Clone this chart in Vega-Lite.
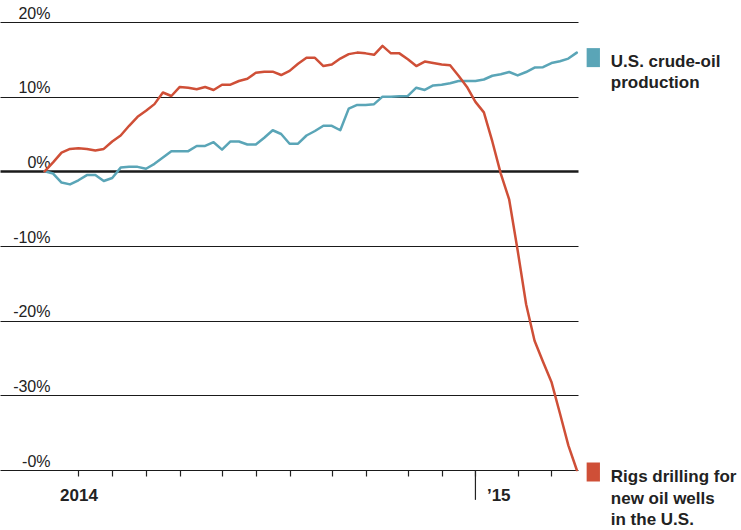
{
  "$schema": "https://vega.github.io/schema/vega-lite/v6.json",
  "width": 578,
  "height": 448,
  "autosize": {"type": "none"},
  "padding": {"left": 0, "top": 22, "right": 163, "bottom": 60},
  "background": "white",
  "config": {
    "view": {"stroke": null},
    "font": "Liberation Sans",
    "axis": {"labelFont": "Liberation Sans"},
    "text": {"font": "Liberation Sans"}
  },
  "data": {
    "values": [
      {"date": "2014-01-03", "prod": 0, "rigs": 0},
      {"date": "2014-01-10", "prod": -0.3, "rigs": 1.2},
      {"date": "2014-01-17", "prod": -1.5, "rigs": 2.5},
      {"date": "2014-01-24", "prod": -1.75, "rigs": 3.0},
      {"date": "2014-01-31", "prod": -1.2, "rigs": 3.1},
      {"date": "2014-02-07", "prod": -0.5, "rigs": 3.0},
      {"date": "2014-02-14", "prod": -0.5, "rigs": 2.8},
      {"date": "2014-02-21", "prod": -1.3, "rigs": 3.0},
      {"date": "2014-02-28", "prod": -0.9, "rigs": 4.0},
      {"date": "2014-03-07", "prod": 0.5, "rigs": 4.8},
      {"date": "2014-03-14", "prod": 0.6, "rigs": 6.1},
      {"date": "2014-03-21", "prod": 0.6, "rigs": 7.3},
      {"date": "2014-03-28", "prod": 0.35, "rigs": 8.1},
      {"date": "2014-04-04", "prod": 1.0, "rigs": 9.0},
      {"date": "2014-04-11", "prod": 1.85, "rigs": 10.56},
      {"date": "2014-04-18", "prod": 2.7, "rigs": 10.09},
      {"date": "2014-04-25", "prod": 2.7, "rigs": 11.3},
      {"date": "2014-05-02", "prod": 2.7, "rigs": 11.2},
      {"date": "2014-05-09", "prod": 3.4, "rigs": 11.0},
      {"date": "2014-05-16", "prod": 3.4, "rigs": 11.3},
      {"date": "2014-05-23", "prod": 3.9, "rigs": 10.9},
      {"date": "2014-05-30", "prod": 2.9, "rigs": 11.6},
      {"date": "2014-06-06", "prod": 4.0, "rigs": 11.6},
      {"date": "2014-06-13", "prod": 4.0, "rigs": 12.1},
      {"date": "2014-06-20", "prod": 3.6, "rigs": 12.4},
      {"date": "2014-06-27", "prod": 3.6, "rigs": 13.2},
      {"date": "2014-07-04", "prod": 4.5, "rigs": 13.35},
      {"date": "2014-07-11", "prod": 5.5, "rigs": 13.35},
      {"date": "2014-07-18", "prod": 5.0, "rigs": 12.9},
      {"date": "2014-07-25", "prod": 3.7, "rigs": 13.45},
      {"date": "2014-08-01", "prod": 3.7, "rigs": 14.4},
      {"date": "2014-08-08", "prod": 4.8, "rigs": 15.2},
      {"date": "2014-08-15", "prod": 5.4, "rigs": 15.2},
      {"date": "2014-08-22", "prod": 6.1, "rigs": 14.1},
      {"date": "2014-08-29", "prod": 6.1, "rigs": 14.3},
      {"date": "2014-09-05", "prod": 5.5, "rigs": 15.1},
      {"date": "2014-09-12", "prod": 8.4, "rigs": 15.7},
      {"date": "2014-09-19", "prod": 8.9, "rigs": 15.9},
      {"date": "2014-09-26", "prod": 8.9, "rigs": 15.8},
      {"date": "2014-10-03", "prod": 9.0, "rigs": 15.6},
      {"date": "2014-10-10", "prod": 10.0, "rigs": 16.8},
      {"date": "2014-10-17", "prod": 10.0, "rigs": 15.8},
      {"date": "2014-10-24", "prod": 10.05, "rigs": 15.8},
      {"date": "2014-10-31", "prod": 10.1, "rigs": 15.0},
      {"date": "2014-11-07", "prod": 11.2, "rigs": 14.1},
      {"date": "2014-11-14", "prod": 10.9, "rigs": 14.7},
      {"date": "2014-11-21", "prod": 11.5, "rigs": 14.5},
      {"date": "2014-11-28", "prod": 11.6, "rigs": 14.3},
      {"date": "2014-12-05", "prod": 11.8, "rigs": 14.2},
      {"date": "2014-12-12", "prod": 12.1, "rigs": 12.8},
      {"date": "2014-12-19", "prod": 12.1, "rigs": 11.3},
      {"date": "2014-12-26", "prod": 12.1, "rigs": 9.3},
      {"date": "2015-01-02", "prod": 12.3, "rigs": 7.9},
      {"date": "2015-01-09", "prod": 12.8, "rigs": 4.0},
      {"date": "2015-01-16", "prod": 13.0, "rigs": -0.3},
      {"date": "2015-01-23", "prod": 13.3, "rigs": -3.8},
      {"date": "2015-01-30", "prod": 12.85, "rigs": -10.6},
      {"date": "2015-02-06", "prod": 13.3, "rigs": -17.8},
      {"date": "2015-02-13", "prod": 13.9, "rigs": -22.7},
      {"date": "2015-02-20", "prod": 13.95, "rigs": -25.5},
      {"date": "2015-02-27", "prod": 14.5, "rigs": -28.2},
      {"date": "2015-03-06", "prod": 14.75, "rigs": -32.4},
      {"date": "2015-03-13", "prod": 15.1, "rigs": -36.7},
      {"date": "2015-03-20", "prod": 15.9, "rigs": -40.0}
    ],
    "format": {"parse": {"date": "date:'%Y-%m-%d'"}}
  },
  "transform": [{"fold": ["prod", "rigs"], "as": ["series", "value"]}],
  "encoding": {
    "x": {
      "field": "date",
      "type": "temporal",
      "scale": {"domain": [{"year": 2013, "month": 11, "date": 27}, {"year": 2015, "month": 3, "date": 21}]},
      "axis": {
        "values": [
          {"year": 2014, "month": 1, "date": 31},
          {"year": 2014, "month": 2, "date": 28},
          {"year": 2014, "month": 3, "date": 28},
          {"year": 2014, "month": 4, "date": 25},
          {"year": 2014, "month": 5, "date": 30},
          {"year": 2014, "month": 6, "date": 27},
          {"year": 2014, "month": 7, "date": 25},
          {"year": 2014, "month": 8, "date": 29},
          {"year": 2014, "month": 9, "date": 26},
          {"year": 2014, "month": 10, "date": 31},
          {"year": 2014, "month": 11, "date": 28},
          {"year": 2014, "month": 12, "date": 26},
          {"year": 2015, "month": 1, "date": 30},
          {"year": 2015, "month": 2, "date": 27}
        ],
        "domain": false,
        "grid": false,
        "ticks": true,
        "tickColor": "#222222",
        "tickWidth": 1.2,
        "tickSize": 6,
        "labelExpr": "year(datum.value)==2014 && month(datum.value)==0 ? '2014' : (month(datum.value)==11 ? '’15' : '')",
        "labelAlign": {"condition": {"test": "month(datum.value)==11", "value": "left"}, "value": "center"},
        "labelOffset": {"condition": {"test": "month(datum.value)==11", "value": 11}, "value": 0},
        "labelBaseline": "alphabetic",
        "labelPadding": 24.5,
        "labelFontSize": 17,
        "labelFontWeight": "bold",
        "labelColor": "#222222",
        "labelFlush": false,
        "labelOverlap": false,
        "title": null
      }
    },
    "y": {
      "field": "value",
      "type": "quantitative",
      "scale": {"domain": [-40, 20], "nice": false, "zero": false},
      "axis": {
        "values": [-40, -30, -20, -10, 0, 10, 20],
        "grid": true,
        "gridColor": "#1a1a1a",
        "gridWidth": {"condition": {"test": "datum.value===0", "value": 2.6}, "value": 1},
        "domain": false,
        "ticks": false,
        "tickSize": 0,
        "labelPadding": -50,
        "labelAlign": "right",
        "labelBaseline": "alphabetic",
        "labelOffset": -4,
        "labelExpr": "datum.value===-40 ? '-0%\u00a0\u00a0' : datum.value + '%'",
        "labelFontSize": 16,
        "labelColor": "#222222",
        "labelFlush": false,
        "labelOverlap": false,
        "title": null
      }
    }
  },
  "layer": [
    {
      "mark": {"type": "line", "strokeWidth": 2.5, "strokeJoin": "round", "strokeCap": "round"},
      "encoding": {
        "color": {
          "field": "series",
          "type": "nominal",
          "scale": {"domain": ["prod", "rigs"], "range": ["#5aa5b7", "#cf4f37"]},
          "legend": null
        }
      }
    },
    {
      "transform": [
        {"window": [{"op": "row_number", "as": "rn"}], "sort": [{"field": "date", "order": "descending"}], "groupby": ["series"]},
        {"filter": "datum.rn == 1 && datum.series == 'prod'"}
      ],
      "mark": {"type": "point", "shape": "M-0.7,-1L0.7,-1L0.7,1L-0.7,1Z", "size": 361, "filled": true, "opacity": 1, "color": "#5aa5b7", "strokeWidth": 0, "xOffset": 16.5, "yOffset": 5}
    },
    {
      "transform": [
        {"window": [{"op": "row_number", "as": "rn"}], "sort": [{"field": "date", "order": "descending"}], "groupby": ["series"]},
        {"filter": "datum.rn == 1 && datum.series == 'prod'"}
      ],
      "mark": {"type": "text", "align": "left", "baseline": "alphabetic", "dx": 34, "dy": 14.5, "fontSize": 17, "fontWeight": "bold", "lineHeight": 21, "color": "#222222"},
      "encoding": {"text": {"value": ["U.S. crude-oil", "production"]}}
    },
    {
      "transform": [
        {"window": [{"op": "row_number", "as": "rn"}], "sort": [{"field": "date", "order": "descending"}], "groupby": ["series"]},
        {"filter": "datum.rn == 1 && datum.series == 'rigs'"}
      ],
      "mark": {"type": "point", "shape": "M-0.7,-1L0.7,-1L0.7,1L-0.7,1Z", "size": 361, "filled": true, "opacity": 1, "color": "#cf4f37", "strokeWidth": 0, "xOffset": 16.5, "yOffset": 2}
    },
    {
      "transform": [
        {"window": [{"op": "row_number", "as": "rn"}], "sort": [{"field": "date", "order": "descending"}], "groupby": ["series"]},
        {"filter": "datum.rn == 1 && datum.series == 'rigs'"}
      ],
      "mark": {"type": "text", "align": "left", "baseline": "alphabetic", "dx": 34, "dy": 12, "fontSize": 17, "fontWeight": "bold", "lineHeight": 21.5, "color": "#222222"},
      "encoding": {"text": {"value": ["Rigs drilling for", "new oil wells", "in the U.S."]}}
    },
    {
      "data": {"values": [{"note": "Percentage change since Jan. 3, 2014"}]},
      "mark": {"type": "text", "align": "left", "baseline": "alphabetic", "fontSize": 17, "fontWeight": "bold", "lineHeight": 21, "color": "#222222"},
      "encoding": {
        "x": {"datum": {"year": 2014, "month": 2, "date": 2, "hours": 18}, "type": "temporal"},
        "y": {"datum": -24.4, "type": "quantitative"},
        "text": {"value": ["Percentage change", "since Jan. 3, 2014"]}
      }
    },
    {
      "transform": [{"filter": "datum.series == 'prod' && month(datum.date) == 11 && date(datum.date) == 26"}],
      "mark": {"type": "rule", "color": "#222222", "strokeWidth": 1.2},
      "encoding": {
        "y": {"datum": -40},
        "y2": {"datum": -44}
      }
    }
  ]
}
